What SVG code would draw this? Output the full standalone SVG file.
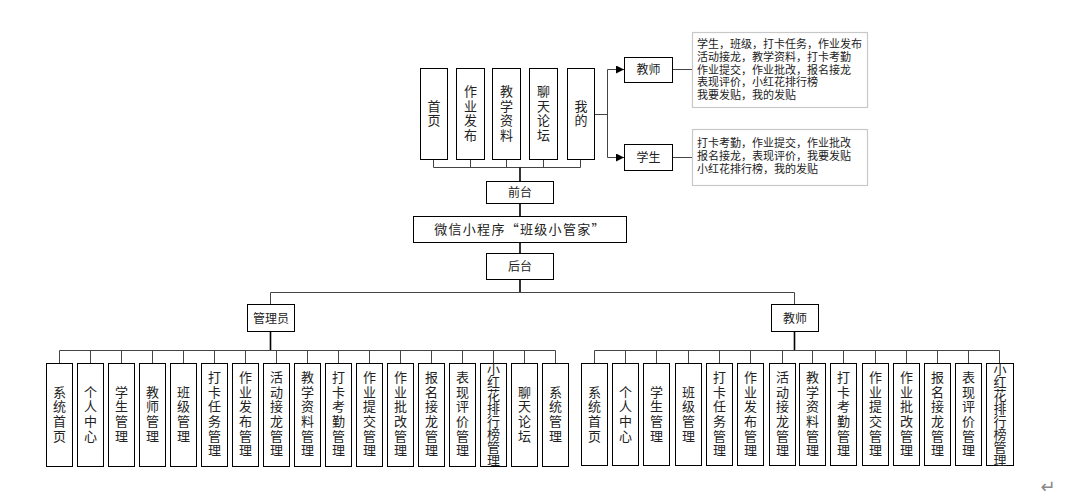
<svg xmlns="http://www.w3.org/2000/svg" width="1080" height="497" viewBox="0 0 1080 497">
<style>
.b{fill:#fff;stroke:#000;stroke-width:1}
.tb{fill:#fff;stroke:#c8c8c8;stroke-width:1.2}
.l{fill:none;stroke:#444;stroke-width:1}
.m{fill:none;stroke:#000;stroke-width:1.6}
text{font-family:"Noto Sans CJK SC","Noto Sans",sans-serif;fill:#222}
.v{font-size:13px;text-anchor:middle;writing-mode:vertical-rl;letter-spacing:1.6px}
.v8{font-size:13px;text-anchor:middle;writing-mode:vertical-rl;letter-spacing:0}
.h{font-size:12px;text-anchor:middle}
.s{font-size:11px}
</style>
<defs>
<marker id="arr" viewBox="0 0 10 10" refX="10" refY="5" markerWidth="8" markerHeight="8" markerUnits="userSpaceOnUse" orient="auto"><path d="M0,0L10,5L0,10z" fill="#000"/></marker>
</defs>
<g id="connectors">
<path class="l" d="M433.5,160V167.5H580.5V160M470.5,160V167.5M506.5,160V167.5M543.5,160V167.5"/>
<path class="m" d="M520,167.5V181"/>
<path class="m" d="M520,203V216M520,242V253M520,279V292"/>
<path class="l" d="M594,114.5H607.5M607.5,69.5V157.5"/>
<path class="l" d="M607.5,69.5H624" marker-end="url(#arr)"/>
<path class="l" d="M607.5,157.5H624" marker-end="url(#arr)"/>
<path class="l" d="M672,69.5H692M672,157.5H692"/>
<path class="l" d="M270.5,304V292.5H794.5V304"/>
<path class="m" d="M270.5,331V350.5M794.5,331V350.5"/>
<path class="l" d="M59.5,363V350.5H555.5V363M90.5,350.5V363M121.5,350.5V363M152.5,350.5V363M183.5,350.5V363M214.5,350.5V363M245.5,350.5V363M276.5,350.5V363M307.5,350.5V363M338.5,350.5V363M369.5,350.5V363M400.5,350.5V363M431.5,350.5V363M462.5,350.5V363M493.5,350.5V363M524.5,350.5V363"/>
<path class="l" d="M594.5,363V350.5H999.5V363M625.5,350.5V363M656.5,350.5V363M688.5,350.5V363M719.5,350.5V363M750.5,350.5V363M782.5,350.5V363M812.5,350.5V363M843.5,350.5V363M875.5,350.5V363M906.5,350.5V363M937.5,350.5V363M968.5,350.5V363"/>
</g>
<g id="top-shouye"><rect class="b" x="420.5" y="68.5" width="27" height="91"/><text class="v" x="434" y="114">首页</text></g>
<g id="top-zuoye"><rect class="b" x="456.5" y="68.5" width="28" height="91"/><text class="v" x="470.5" y="114">作业发布</text></g>
<g id="top-ziliao"><rect class="b" x="492.5" y="68.5" width="28" height="91"/><text class="v" x="506.5" y="114">教学资料</text></g>
<g id="top-luntan"><rect class="b" x="529.5" y="68.5" width="28" height="91"/><text class="v" x="543.5" y="114">聊天论坛</text></g>
<g id="top-wode"><rect class="b" x="567.5" y="68.5" width="27" height="91"/><text class="v" x="581" y="114">我的</text></g>
<g id="qiantai"><rect class="b" x="486.5" y="181.5" width="67" height="22"/><text class="h" x="520" y="196.5">前台</text></g>
<g id="weixin"><rect class="b" x="413.5" y="216.5" width="213" height="26"/><text x="520" y="234" style="font-size:13px;text-anchor:middle;letter-spacing:1.3px">微信小程序“班级小管家”</text></g>
<g id="houtai"><rect class="b" x="486.5" y="253.5" width="67" height="26"/><text class="h" x="520" y="270.5">后台</text></g>
<g id="jiaoshi-top"><rect class="b" x="624.5" y="57.5" width="48" height="25"/><text class="h" x="648.5" y="74">教师</text></g>
<g id="xuesheng-top"><rect class="b" x="624.5" y="144.5" width="48" height="26"/><text class="h" x="648.5" y="161.5">学生</text></g>
<g id="jiaoshi-desc"><rect class="tb" x="692.5" y="32.5" width="175" height="75"/><text class="s"><tspan x="697" y="48">学生，班级，打卡任务，作业发布</tspan><tspan x="697" y="61">活动接龙，教学资料，打卡考勤</tspan><tspan x="697" y="73.5">作业提交，作业批改，报名接龙</tspan><tspan x="697" y="86">表现评价，小红花排行榜</tspan><tspan x="697" y="99">我要发贴，我的发贴</tspan></text></g>
<g id="xuesheng-desc"><rect class="tb" x="692.5" y="129.5" width="175" height="56"/><text class="s"><tspan x="697" y="147">打卡考勤，作业提交，作业批改</tspan><tspan x="697" y="160">报名接龙，表现评价，我要发贴</tspan><tspan x="697" y="173">小红花排行榜，我的发贴</tspan></text></g>
<g id="guanliyuan"><rect class="b" x="247.5" y="304.5" width="47" height="27"/><text class="h" x="271" y="322.5">管理员</text></g>
<g id="jiaoshi-bottom"><rect class="b" x="771.5" y="304.5" width="47" height="27"/><text class="h" x="795" y="322.5">教师</text></g>
<g id="a1"><rect class="b" x="46.5" y="363.5" width="26" height="103"/><text class="v" x="59.5" y="414.5">系统首页</text></g>
<g id="a2"><rect class="b" x="77.5" y="363.5" width="26" height="103"/><text class="v" x="90.5" y="414.5">个人中心</text></g>
<g id="a3"><rect class="b" x="108.5" y="363.5" width="26" height="103"/><text class="v" x="121.5" y="414.5">学生管理</text></g>
<g id="a4"><rect class="b" x="139.5" y="363.5" width="26" height="103"/><text class="v" x="152.5" y="414.5">教师管理</text></g>
<g id="a5"><rect class="b" x="170.5" y="363.5" width="26" height="103"/><text class="v" x="183.5" y="414.5">班级管理</text></g>
<g id="a6"><rect class="b" x="201.5" y="363.5" width="26" height="103"/><text class="v" x="214.5" y="414.5">打卡任务管理</text></g>
<g id="a7"><rect class="b" x="232.5" y="363.5" width="26" height="103"/><text class="v" x="245.5" y="414.5">作业发布管理</text></g>
<g id="a8"><rect class="b" x="263.5" y="363.5" width="26" height="103"/><text class="v" x="276.5" y="414.5">活动接龙管理</text></g>
<g id="a9"><rect class="b" x="294.5" y="363.5" width="26" height="103"/><text class="v" x="307.5" y="414.5">教学资料管理</text></g>
<g id="a10"><rect class="b" x="325.5" y="363.5" width="26" height="103"/><text class="v" x="338.5" y="414.5">打卡考勤管理</text></g>
<g id="a11"><rect class="b" x="356.5" y="363.5" width="26" height="103"/><text class="v" x="369.5" y="414.5">作业提交管理</text></g>
<g id="a12"><rect class="b" x="387.5" y="363.5" width="26" height="103"/><text class="v" x="400.5" y="414.5">作业批改管理</text></g>
<g id="a13"><rect class="b" x="418.5" y="363.5" width="26" height="103"/><text class="v" x="431.5" y="414.5">报名接龙管理</text></g>
<g id="a14"><rect class="b" x="449.5" y="363.5" width="26" height="103"/><text class="v" x="462.5" y="414.5">表现评价管理</text></g>
<g id="a15"><rect class="b" x="480.5" y="363.5" width="26" height="103"/><text class="v8" x="493.5" y="414.5">小红花排行榜管理</text></g>
<g id="a16"><rect class="b" x="511.5" y="363.5" width="26" height="103"/><text class="v" x="524.5" y="414.5">聊天论坛</text></g>
<g id="a17"><rect class="b" x="542.5" y="363.5" width="26" height="103"/><text class="v" x="555.5" y="414.5">系统管理</text></g>
<g id="t1"><rect class="b" x="581.5" y="363.5" width="26" height="102"/><text class="v" x="594.5" y="414.5">系统首页</text></g>
<g id="t2"><rect class="b" x="612.5" y="363.5" width="26" height="102"/><text class="v" x="625.5" y="414.5">个人中心</text></g>
<g id="t3"><rect class="b" x="643.5" y="363.5" width="26" height="102"/><text class="v" x="656.5" y="414.5">学生管理</text></g>
<g id="t4"><rect class="b" x="675.5" y="363.5" width="26" height="102"/><text class="v" x="688.5" y="414.5">班级管理</text></g>
<g id="t5"><rect class="b" x="706.5" y="363.5" width="26" height="102"/><text class="v" x="719.5" y="414.5">打卡任务管理</text></g>
<g id="t6"><rect class="b" x="737.5" y="363.5" width="26" height="102"/><text class="v" x="750.5" y="414.5">作业发布管理</text></g>
<g id="t7"><rect class="b" x="769.5" y="363.5" width="26" height="102"/><text class="v" x="782.5" y="414.5">活动接龙管理</text></g>
<g id="t8"><rect class="b" x="799.5" y="363.5" width="26" height="102"/><text class="v" x="812.5" y="414.5">教学资料管理</text></g>
<g id="t9"><rect class="b" x="830.5" y="363.5" width="26" height="102"/><text class="v" x="843.5" y="414.5">打卡考勤管理</text></g>
<g id="t10"><rect class="b" x="862.5" y="363.5" width="26" height="102"/><text class="v" x="875.5" y="414.5">作业提交管理</text></g>
<g id="t11"><rect class="b" x="893.5" y="363.5" width="26" height="102"/><text class="v" x="906.5" y="414.5">作业批改管理</text></g>
<g id="t12"><rect class="b" x="924.5" y="363.5" width="26" height="102"/><text class="v" x="937.5" y="414.5">报名接龙管理</text></g>
<g id="t13"><rect class="b" x="955.5" y="363.5" width="26" height="102"/><text class="v" x="968.5" y="414.5">表现评价管理</text></g>
<g id="t14"><rect class="b" x="986.5" y="363.5" width="27" height="102"/><text class="v8" x="1000" y="414.5">小红花排行榜管理</text></g>
<text x="1048" y="493" style="font-family:'DejaVu Sans',sans-serif;font-size:18px;fill:#888;text-anchor:middle">↵</text>
</svg>
